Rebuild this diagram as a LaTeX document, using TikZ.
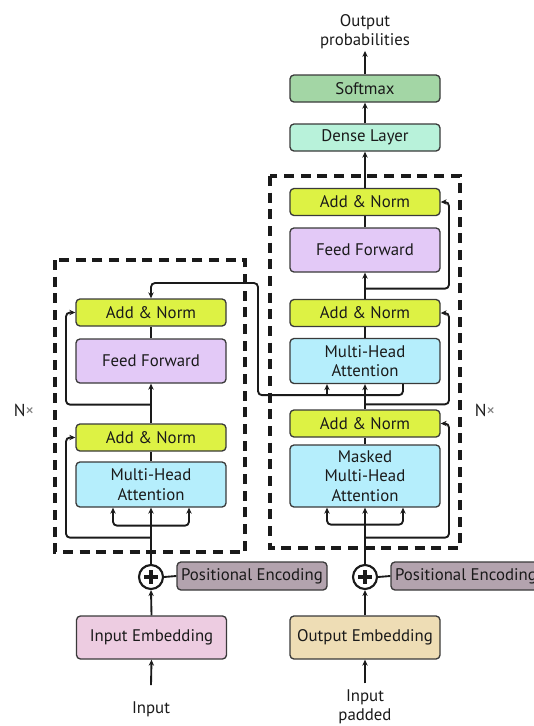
\documentclass[tikz,border=0pt]{standalone}
\usepackage{fontspec}
\setmainfont{PT Sans}
\usetikzlibrary{calc,arrows.meta}

\definecolor{addnorm}{HTML}{DDF244}
\definecolor{ffwd}{HTML}{E3C9F7}
\definecolor{attn}{HTML}{B5EEFC}
\definecolor{dense}{HTML}{B8F2DA}
\definecolor{softmax}{HTML}{A3D6A5}
\definecolor{posenc}{HTML}{B3A3AE}
\definecolor{inemb}{HTML}{EDCCE1}
\definecolor{outemb}{HTML}{EEDDB5}
\definecolor{edge}{HTML}{3A3A3A}
\definecolor{ink}{HTML}{1A1A1A}

\tikzset{
  block/.style={draw=edge, line width=1pt, rounded corners=3pt, minimum width=112.5pt,
    align=center, inner sep=1pt, text=ink, font=\fontsize{12.6}{14.5}\selectfont},
  thin block/.style={block, minimum height=20.25pt},
  addbox/.style={thin block, fill=addnorm},
  ffbox/.style={block, fill=ffwd, minimum height=33pt},
  attbox/.style={block, fill=attn, minimum height=33.75pt},
  wire/.style={draw=ink, line width=1.4pt, rounded corners=3pt},
  arr/.style={wire, -{Stealth[length=4.5pt,width=4pt]}},
  rarr/.style={wire, {Stealth[length=4.5pt,width=4pt]}-},
  frame/.style={draw=ink, line width=2.4pt, dash pattern=on 7.5pt off 5pt},
  plain/.style={text=ink, font=\fontsize{12.6}{14.5}\selectfont, align=center},
  plusnode/.style={circle, draw=ink, fill=white, line width=1.6pt, minimum size=18pt, inner sep=0pt,
    path picture={
      \draw[ink, line width=2.6pt] ([xshift=-5.2pt]path picture bounding box.center) -- ([xshift=5.2pt]path picture bounding box.center);
      \draw[ink, line width=2.6pt] ([yshift=-5.2pt]path picture bounding box.center) -- ([yshift=5.2pt]path picture bounding box.center);
    }},
}

\begin{document}
\begin{tikzpicture}[x=0.75pt,y=-0.75pt]
\useasboundingbox (0,0) rectangle (534,726);

% dashed stack frames
\draw[frame] (55,260) rectangle (245,552);
\draw[frame] (270,176) rectangle (460,548);
\node[plain, font=\fontsize{13}{15}\selectfont] (nl) at (24,410) {N{\color{gray}×}};
\node[plain, font=\fontsize{13}{15}\selectfont] (nr) at (485,410) {N{\color{gray}×}};

% ---------------- encoder ----------------
\node[addbox] (enA2) at (151,312.5) {Add \& Norm};
\node[ffbox]  (enFF) at (151,361) {Feed Forward};
\node[addbox] (enA1) at (151,437.5) {Add \& Norm};
\node[attbox] (enMHA) at (151,484.5) {Multi-Head\\Attention};

\node[plusnode] (enPlus) at (151,577) {};
\node[thin block, fill=posenc, minimum height=21pt] (enPE) at (252,576) {Positional Encoding};
\node[block, fill=inemb, minimum height=32.25pt] (enEmb) at (151.5,637.5) {Input Embedding};
\node[plain, inner sep=12pt] (enIn) at (151,709) {Input};

% ---------------- decoder ----------------
\node[addbox] (deA3) at (365,202) {Add \& Norm};
\node[ffbox]  (deFF) at (365,250) {Feed Forward};
\node[addbox] (deA2) at (365,313) {Add \& Norm};
\node[attbox] (deMHA) at (365,361) {Multi-Head\\Attention};
\node[addbox] (deA1) at (365,423.5) {Add \& Norm};
\node[block, fill=attn, minimum height=46.5pt] (deMMHA) at (365,476) {Masked\\Multi-Head\\Attention};

\node[thin block, fill=dense] (dense) at (365,137.5) {Dense Layer};
\node[thin block, fill=softmax] (soft) at (365,88.5) {Softmax};
\node[plain, inner sep=1pt] (outP) at (365,32) {Output\\probabilities};

\node[plusnode] (dePlus) at (365,577) {};
\node[thin block, fill=posenc, minimum height=21pt] (dePE) at (466,576) {Positional Encoding};
\node[block, fill=outemb, minimum height=32.25pt] (deEmb) at (365,637.5) {Output Embedding};
\node[plain, inner sep=2pt] (deIn) at (365,706.5) {Input\\padded};

% ---------------- encoder wiring ----------------
\draw[arr] (enIn.north) -- (enEmb.south);
\draw[arr] (enEmb.north) -- (enPlus.south);
\draw[wire] (enPlus.east) -- (enPE.west);
\draw[arr] (enPlus.north) -- (enMHA.south);
\draw[arr] ($(enMHA.south)+(0,18)$) -| ($(enMHA.south)+(-38,0)$);
\draw[arr] ($(enMHA.south)+(0,18)$) -| ($(enMHA.south)+(38,0)$);
\draw[arr] ($(enMHA.south)+(0,30)$) -| (66,437.5) -- (enA1.west);
\draw[wire] (enMHA.north) -- (enA1.south);
\draw[arr] (enA1.north) -- (enFF.south);
\draw[arr] ($(enFF.south)+(0,21)$) -| (66,312.5) -- (enA2.west);
\draw[wire] (enFF.north) -- (enA2.south);

% encoder output routed to the decoder cross-attention
\draw[rarr] (enA2.north) |- (258,283) |- ($(deMHA.south)+(38,11)$) -- ($(deMHA.south)+(38,0)$);
\draw[arr] ($(deMHA.south)+(-38,11)$) -- ($(deMHA.south)+(-38,0)$);

% ---------------- decoder wiring ----------------
\draw[arr] ($(deIn.north)+(0,-3)$) -- (deEmb.south);
\draw[arr] (deEmb.north) -- (dePlus.south);
\draw[wire] (dePlus.east) -- (dePE.west);
\draw[arr] (dePlus.north) -- (deMMHA.south);
\draw[arr] ($(deMMHA.south)+(0,17)$) -| ($(deMMHA.south)+(-38,0)$);
\draw[arr] ($(deMMHA.south)+(0,17)$) -| ($(deMMHA.south)+(38,0)$);
\draw[arr] ($(deMMHA.south)+(0,30)$) -| (449,423.5) -- (deA1.east);
\draw[wire] (deMMHA.north) -- (deA1.south);
\draw[arr] (deA1.north) -- (deMHA.south);
\draw[arr] ($(deA1.north)+(0,-5)$) -| (449,313) -- (deA2.east);
\draw[wire] (deMHA.north) -- (deA2.south);
\draw[arr] (deA2.north) -- (deFF.south);
\draw[arr] ($(deFF.south)+(0,16)$) -| (449,202) -- (deA3.east);
\draw[wire] (deFF.north) -- (deA3.south);
\draw[arr] (deA3.north) -- (dense.south);
\draw[arr] (dense.north) -- (soft.south);
\draw[arr] (soft.north) -- (outP.south);
\end{tikzpicture}
\end{document}
